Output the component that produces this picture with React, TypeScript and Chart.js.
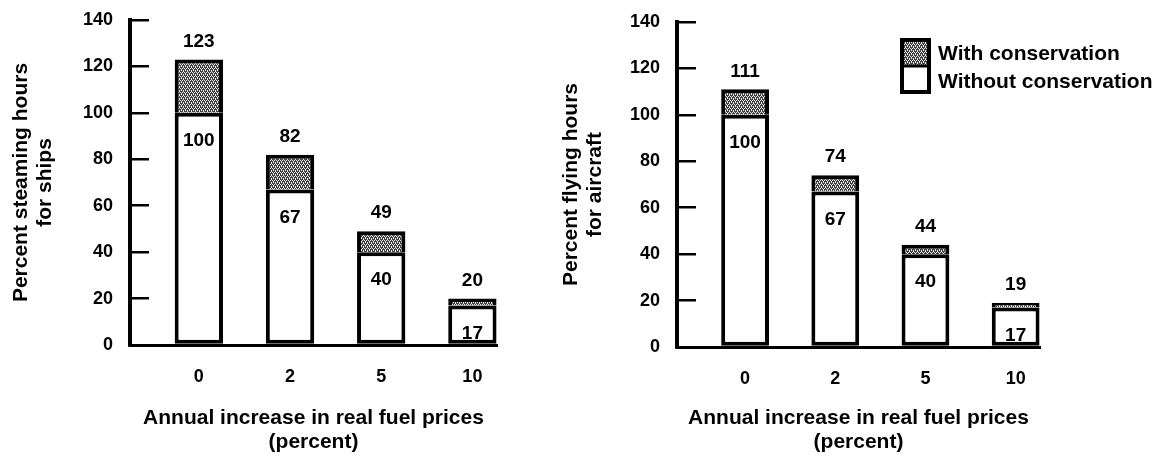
import React, { useEffect, useRef } from 'react';
import { Chart, registerables } from 'chart.js';

Chart.register(...registerables);

// ---- data ----
const categories = ['0', '2', '5', '10'];
const shipsWithout = [100, 67, 40, 17];
const shipsWith = [123, 82, 49, 20];
const aircraftWithout = [100, 67, 40, 17];
const aircraftWith = [111, 74, 44, 19];
const yTicks = [0, 20, 40, 60, 80, 100, 120, 140];
const seriesLabels = ['Without conservation', 'With conservation'];
const xTitle = ['Annual increase in real fuel prices', '(percent)'];
const shipsTitle = ['Percent steaming hours', 'for ships'];
const aircraftTitle = ['Percent flying hours', 'for aircraft'];

const FONT = '"Liberation Sans", Arial, Helvetica, sans-serif';
Chart.defaults.font.family = FONT;
Chart.defaults.color = '#000';

function makePattern(): CanvasPattern | string {
  const c = document.createElement('canvas');
  c.width = 4;
  c.height = 4;
  const g = c.getContext('2d');
  if (!g) return '#7f7f7f';
  g.fillStyle = '#404040';
  g.fillRect(0, 0, 4, 4);
  g.fillStyle = '#e8e8e8';
  const light = [
    [0, 0], [2, 0], [1, 1], [1, 2], [3, 2], [3, 3],
  ];
  light.forEach(([px, py]) => g.fillRect(px, py, 1, 1));
  return g.createPattern(c, 'repeat') || '#7f7f7f';
}

const valueLabelPlugin = {
  id: 'valueLabels',
  afterDatasetsDraw(chart: any) {
    const ctx = chart.ctx;
    const m0 = chart.getDatasetMeta(0);
    const m1 = chart.getDatasetMeta(1);
    const d0 = chart.data.datasets[0].data;
    const d1 = chart.data.datasets[1].data;
    ctx.save();
    ctx.font = `bold 19px ${FONT}`;
    ctx.fillStyle = '#000';
    ctx.textAlign = 'center';
    ctx.textBaseline = 'middle';
    m0.data.forEach((el: any, i: number) => {
      ctx.fillText(String(d0[i].y), el.x, el.y + 28);
    });
    m1.data.forEach((el: any, i: number) => {
      ctx.fillText(String(d1[i].y[1]), el.x, el.y - 18);
    });
    ctx.restore();
  },
};

const stackLegendPlugin = {
  id: 'stackLegend',
  afterDraw(chart: any, _args: any, opts: any) {
    if (!opts || !opts.show) return;
    const { x, y, box, row, textGap } = opts;
    const ctx = chart.ctx;
    const order = [1, 0];
    ctx.save();
    order.forEach((di, r) => {
      const ds = chart.data.datasets[di];
      ctx.fillStyle = ds.backgroundColor;
      ctx.fillRect(x, y + r * row, box, row);
    });
    ctx.strokeStyle = '#000';
    ctx.lineWidth = 4;
    ctx.strokeRect(x + 2, y + 2, box - 4, row * 2 - 4);
    ctx.lineWidth = 3;
    ctx.beginPath();
    ctx.moveTo(x, y + row);
    ctx.lineTo(x + box, y + row);
    ctx.stroke();
    ctx.font = `bold 21px ${FONT}`;
    ctx.fillStyle = '#000';
    ctx.textAlign = 'left';
    ctx.textBaseline = 'middle';
    order.forEach((di, r) => {
      const ds = chart.data.datasets[di];
      ctx.fillText(ds.label, x + box + textGap, y + r * row + row / 2 + 2);
    });
    ctx.restore();
  },
};

interface PanelOpts {
  without: number[];
  total: number[];
  yTitle: string[];
  yWidth: number;
  top: number;
  xHeight: number;
  padRight: number;
  legend: any;
}

function buildConfig(o: PanelOpts): any {
  const pattern = makePattern();
  return {
    type: 'bar',
    data: {
      datasets: [
        {
          label: seriesLabels[0],
          data: o.without.map((v, i) => ({ x: i, y: v })),
          backgroundColor: '#ffffff',
          borderColor: '#000000',
          borderWidth: 4,
          borderSkipped: false,
          barPercentage: 0.53,
          categoryPercentage: 1,
        },
        {
          label: seriesLabels[1],
          data: o.total.map((v, i) => ({ x: i, y: [o.without[i], v] })),
          backgroundColor: pattern,
          borderColor: '#000000',
          borderWidth: 4,
          borderSkipped: 'bottom',
          barPercentage: 0.53,
          categoryPercentage: 1,
        },
      ],
    },
    options: {
      responsive: false,
      animation: false,
      devicePixelRatio: 1,
      layout: { padding: { top: o.top, right: o.padRight, left: 0, bottom: 0 } },
      plugins: {
        legend: { display: false },
        tooltip: { enabled: false },
        stackLegend: o.legend,
      },
      scales: {
        x: {
          type: 'linear',
          stacked: true,
          offset: false,
          min: -0.755,
          max: 3.27,
          grid: { display: false, drawTicks: false, offset: false },
          border: { display: true, color: '#000', width: 3 },
          ticks: {
            autoSkip: false,
            padding: 21,
            color: '#000',
            font: { size: 18, weight: 'bold' },
            callback: (v: any) => categories[v] ?? '',
          },
          afterBuildTicks: (s: any) => {
            s.ticks = categories.map((_, i) => ({ value: i }));
          },
          afterFit: (s: any) => {
            s.height = o.xHeight;
            s.paddingLeft = 0;
            s.paddingRight = 0;
          },
          title: {
            display: true,
            text: xTitle,
            color: '#000',
            font: { size: 21, weight: 'bold', lineHeight: 24 / 21 },
            padding: { top: 0, bottom: 2 },
          },
        },
        y: {
          type: 'linear',
          min: 0,
          max: 140,
          stacked: false,
          afterBuildTicks: (s: any) => {
            s.ticks = yTicks.map((v) => ({ value: v }));
          },
          ticks: {
            padding: 36,
            color: '#000',
            font: { size: 18, weight: 'bold' },
          },
          grid: {
            drawOnChartArea: false,
            drawTicks: true,
            tickLength: -19,
            color: '#000',
            lineWidth: 2.5,
          },
          border: { display: true, color: '#000', width: 4 },
          afterFit: (s: any) => {
            s.width = o.yWidth;
            s.paddingTop = 0;
            s.paddingBottom = 0;
          },
          title: {
            display: true,
            text: o.yTitle,
            color: '#000',
            font: { size: 21, weight: 'bold', lineHeight: 24 / 21 },
            padding: { top: 9, bottom: 0 },
          },
        },
      },
    },
    plugins: [valueLabelPlugin, stackLegendPlugin],
  };
}

function Panel({ opts, left, width }: { opts: PanelOpts; left: number; width: number }) {
  const ref = useRef<HTMLCanvasElement | null>(null);
  useEffect(() => {
    if (!ref.current) return;
    const chart = new Chart(ref.current, buildConfig(opts));
    return () => chart.destroy();
  }, []);
  return (
    <canvas
      ref={ref}
      width={width}
      height={456}
      style={{ position: 'absolute', left, top: 0, width, height: 456 }}
    />
  );
}

export default function App() {
  const shipsOpts: PanelOpts = {
    without: shipsWithout,
    total: shipsWith,
    yTitle: shipsTitle,
    yWidth: 130,
    top: 20,
    xHeight: 111,
    padRight: 53,
    legend: { show: false },
  };
  const aircraftOpts: PanelOpts = {
    without: aircraftWithout,
    total: aircraftWith,
    yTitle: aircraftTitle,
    yWidth: 127,
    top: 22,
    xHeight: 109,
    padRight: 129,
    legend: { show: true, x: 350, y: 38, box: 31, row: 28, textGap: 7 },
  };
  return (
    <div style={{ position: 'absolute', left: 0, top: 0, width: 1169, height: 456, background: '#fff' }}>
      <Panel opts={shipsOpts} left={0} width={550} />
      <Panel opts={aircraftOpts} left={550} width={619} />
    </div>
  );
}
